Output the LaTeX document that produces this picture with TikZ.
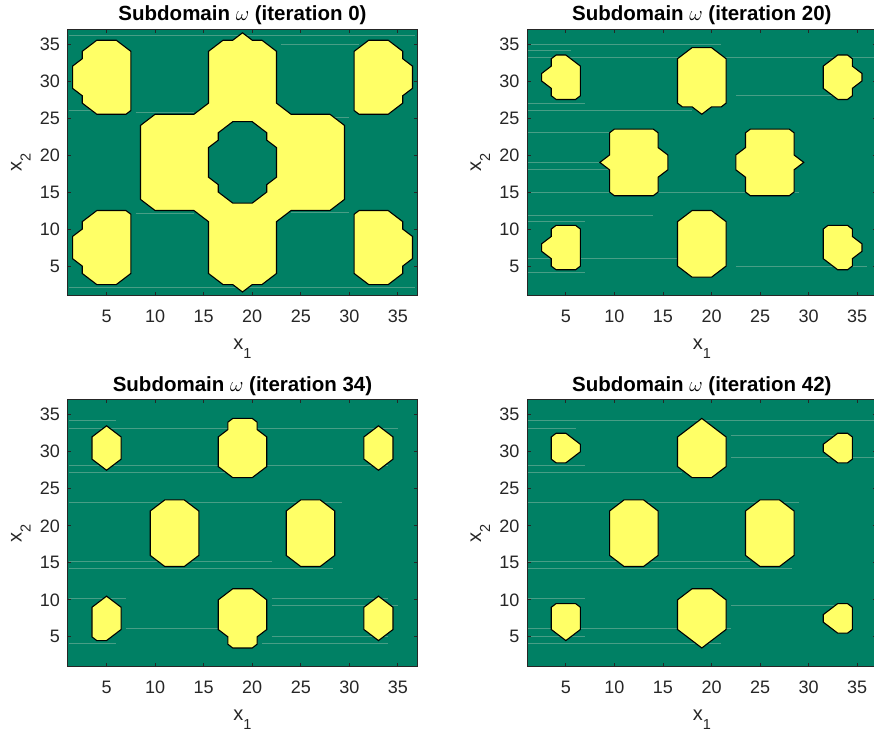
\documentclass[tikz,border=0pt]{standalone}
\usepackage{fontspec}
\setmainfont{Liberation Sans}
\definecolor{bgc}{RGB}{0,128,100}
\definecolor{blobc}{RGB}{255,255,102}
\definecolor{axc}{RGB}{38,38,38}
\definecolor{faint}{RGB}{72,158,134}
\tikzset{
 blob/.style={fill=blobc, draw=black, line width=1.1pt, line join=miter},
 axbox/.style={draw=axc, line width=0.9pt},
 tickl/.style={draw=axc, line width=0.8pt},
 faintln/.style={draw=faint, line width=0.6pt},
 ticklab/.style={font=\fontsize{18}{18}\selectfont, text=axc, inner sep=0pt},
 axlab/.style={font=\fontsize{20}{20}\selectfont, text=axc, inner sep=0pt, anchor=base},
 titlelab/.style={font=\bfseries\fontsize{20.5}{20.5}\selectfont, text=black, inner sep=0pt, anchor=base},
}
\newcommand\axdeco[2]{%
  \draw[axbox] (1,1) rectangle (37,37);
  \foreach \t in {5,10,...,35} {
    \draw[tickl] (\t,1) -- ++(0,0.47);
    \draw[tickl] (\t,37) -- ++(0,-0.47);
    \draw[tickl] (1,\t) -- ++(0.36,0);
    \draw[tickl] (37,\t) -- ++(-0.36,0);
    \node[ticklab, anchor=base, yshift=-27pt] (#1xt\t) at (\t,1) {\t};
    \node[ticklab, anchor=east, xshift=-7.5pt] (#1yt\t) at (1,\t) {\t};
  }
  \node[axlab, yshift=-54pt] (#1xl) at (19,1) {x\raisebox{-9pt}{\fontsize{14.5}{14.5}\selectfont 1}};
  \node[axlab, xshift=-46pt, rotate=90] (#1yl) at (1,19) {x\raisebox{-9pt}{\fontsize{14.5}{14.5}\selectfont 2}};
  \node[titlelab, yshift=8.3pt] (#1title) at (19,37) {Subdomain {\mdseries$\omega$} (iteration #2)};
}
\newcommand\faintlines[1]{%
  \foreach \yy/\xa/\xb in {#1} { \draw[faintln] (\xa,\yy) -- (\xb,\yy); }
}
\begin{document}
\begin{tikzpicture}[x=1pt,y=-1pt]
\useasboundingbox (0,0) rectangle (874,736);
\fill[white] (0,0) rectangle (874,736);

% ---------- iteration 0 ----------
\begin{scope}[shift={(57.989,303.106)}, x=9.7111pt, y=7.4056pt]
  \fill[bgc] (1,1) rectangle (37,37);
  \faintlines{36.1/1.1/36.8, 35/23/31, 26/1.1/7.5, 25.7/8/14, 25.1/24/30, 12.1/8/14, 12.2/24/30, 2.1/1.1/36.8}
  \filldraw[blob] (4,35.5) -- (6,35.5) -- (7.5,34) -- (7.5,26) -- (7,25.5) -- (4,25.5) -- (2.5,27) -- (2.5,28) -- (1.5,29) -- (1.5,32) -- (2.5,33) -- (2.5,34) -- cycle;
  \filldraw[blob] (34,35.5) -- (32,35.5) -- (30.5,34) -- (30.5,26) -- (31,25.5) -- (34,25.5) -- (35.5,27) -- (35.5,28) -- (36.5,29) -- (36.5,32) -- (35.5,33) -- (35.5,34) -- cycle;
  \filldraw[blob] (4,2.5) -- (6,2.5) -- (7.5,4) -- (7.5,12) -- (7,12.5) -- (4,12.5) -- (2.5,11) -- (2.5,10) -- (1.5,9) -- (1.5,6) -- (2.5,5) -- (2.5,4) -- cycle;
  \filldraw[blob] (34,2.5) -- (32,2.5) -- (30.5,4) -- (30.5,12) -- (31,12.5) -- (34,12.5) -- (35.5,11) -- (35.5,10) -- (36.5,9) -- (36.5,6) -- (35.5,5) -- (35.5,4) -- cycle;
  \filldraw[blob, even odd rule]
    (19,36.5) -- (20,35.5) -- (21,35.5) -- (22.5,34) -- (22.5,27) -- (24,25.5) -- (28,25.5) -- (29.5,24) -- (29.5,14) -- (28,12.5) -- (24,12.5) -- (22.5,11) -- (22.5,4) -- (21,2.5) -- (20,2.5) -- (19,1.5) -- (18,2.5) -- (17,2.5) -- (15.5,4) -- (15.5,11) -- (14,12.5) -- (10,12.5) -- (8.5,14) -- (8.5,24) -- (10,25.5) -- (14,25.5) -- (15.5,27) -- (15.5,34) -- (17,35.5) -- (18,35.5) -- cycle
    (18,24.5) -- (20,24.5) -- (21.5,23) -- (21.5,22) -- (22.5,21) -- (22.5,17) -- (21.5,16) -- (21.5,15) -- (20,13.5) -- (18,13.5) -- (16.5,15) -- (16.5,16) -- (15.5,17) -- (15.5,21) -- (16.5,22) -- (16.5,23) -- cycle;
  \axdeco{a}{0}
\end{scope}

% ---------- iteration 20 ----------
\begin{scope}[shift={(517.289,303.106)}, x=9.7111pt, y=7.4056pt]
  \fill[bgc] (1,1) rectangle (37,37);
  \faintlines{35/1.1/21, 34.1/1.1/5.5, 33.2/1.1/37, 28.1/22.5/33, 27/1.1/7, 26.1/1.1/18, 23.1/1.1/9.5, 19/1.1/9, 18.1/1.1/10, 15/1.1/29, 11.9/1.1/14, 11.1/1.1/7, 6.1/1.1/16.5, 5/22.5/36, 4.1/1.1/7}
  \filldraw[blob] (4,33.5) -- (5,33.5) -- (6.5,32) -- (6.5,28) -- (6,27.5) -- (4,27.5) -- (3.5,28) -- (3.5,29) -- (2.5,30) -- (2.5,31) -- (3.5,32) -- (3.5,33) -- cycle;
  \filldraw[blob] (4,10.5) -- (6,10.5) -- (6.5,10) -- (6.5,5) -- (6,4.5) -- (4,4.5) -- (3.5,5) -- (3.5,6) -- (2.5,7) -- (2.5,8) -- (3.5,9) -- (3.5,10) -- cycle;
  \filldraw[blob] (10,23.5) -- (14,23.5) -- (14.5,23) -- (14.5,21) -- (15.5,20) -- (15.5,18) -- (14.5,17) -- (14.5,15) -- (14,14.5) -- (10,14.5) -- (9.5,15) -- (9.5,18) -- (8.5,19) -- (9.5,20) -- (9.5,23) -- cycle;
  \filldraw[blob] (28,23.5) -- (24,23.5) -- (23.5,23) -- (23.5,21) -- (22.5,20) -- (22.5,18) -- (23.5,17) -- (23.5,15) -- (24,14.5) -- (28,14.5) -- (28.5,15) -- (28.5,18) -- (29.5,19) -- (28.5,20) -- (28.5,23) -- cycle;
  \filldraw[blob] (18,34.5) -- (20,34.5) -- (21.5,33) -- (21.5,27) -- (21,26.5) -- (20,26.5) -- (19,25.5) -- (18,26.5) -- (17,26.5) -- (16.5,27) -- (16.5,33) -- cycle;
  \filldraw[blob] (18,12.5) -- (20,12.5) -- (21.5,11) -- (21.5,5) -- (20,3.5) -- (18,3.5) -- (16.5,5) -- (16.5,11) -- cycle;
  \filldraw[blob] (33,33.5) -- (34,33.5) -- (34.5,33) -- (34.5,32) -- (35.5,31) -- (35.5,30) -- (34.5,29) -- (34.5,28) -- (34,27.5) -- (33,27.5) -- (31.5,29) -- (31.5,32) -- cycle;
  \filldraw[blob] (32,10.5) -- (34,10.5) -- (34.5,10) -- (34.5,9) -- (35.5,8) -- (35.5,7) -- (34.5,6) -- (34.5,5) -- (34,4.5) -- (33,4.5) -- (31.5,6) -- (31.5,10) -- cycle;
  \axdeco{b}{20}
\end{scope}

% ---------- iteration 34 ----------
\begin{scope}[shift={(57.989,673.906)}, x=9.7111pt, y=7.4056pt]
  \fill[bgc] (1,1) rectangle (37,37);
  \faintlines{34.3/1.1/6, 33.2/1.1/35, 28.2/1.1/34, 27.2/1.1/17.5, 23.2/1.1/29.2, 15.2/1.1/22, 14.3/1.1/28.3, 10.2/1.1/7, 10.2/22/34, 9.2/22/35, 6.1/7/17, 5.1/22/34, 4.2/1.1/6, 4.2/21/34}
  \filldraw[blob] (5,33.5) -- (6.5,32) -- (6.5,29) -- (5,27.5) -- (3.5,29) -- (3.5,32) -- cycle;
  \filldraw[blob] (5,10.5) -- (6.5,9) -- (6.5,6) -- (5,4.5) -- (4,4.5) -- (3.5,5) -- (3.5,9) -- cycle;
  \filldraw[blob] (18,34.5) -- (20,34.5) -- (20.5,34) -- (20.5,33) -- (21.5,32) -- (21.5,28) -- (20,26.5) -- (18,26.5) -- (16.5,28) -- (16.5,32) -- (17.5,33) -- (17.5,34) -- cycle;
  \filldraw[blob] (18,11.5) -- (20,11.5) -- (21.5,10) -- (21.5,6) -- (20.5,5) -- (20.5,4) -- (20,3.5) -- (18,3.5) -- (17.5,4) -- (17.5,5) -- (16.5,6) -- (16.5,10) -- cycle;
  \filldraw[blob] (11,23.5) -- (13,23.5) -- (14.5,22) -- (14.5,16) -- (13,14.5) -- (11,14.5) -- (9.5,16) -- (9.5,22) -- cycle;
  \filldraw[blob] (25,23.5) -- (27,23.5) -- (28.5,22) -- (28.5,16) -- (27,14.5) -- (25,14.5) -- (23.5,16) -- (23.5,22) -- cycle;
  \filldraw[blob] (33,33.5) -- (34.5,32) -- (34.5,29) -- (33,27.5) -- (31.5,29) -- (31.5,32) -- cycle;
  \filldraw[blob] (33,10.5) -- (34.5,9) -- (34.5,6) -- (33,4.5) -- (31.5,6) -- (31.5,9) -- cycle;
  \axdeco{c}{34}
\end{scope}

% ---------- iteration 42 ----------
\begin{scope}[shift={(517.289,673.906)}, x=9.7111pt, y=7.4056pt]
  \fill[bgc] (1,1) rectangle (37,37);
  \faintlines{34.3/1.1/37, 33.2/1.1/6, 32.2/22/33, 29.3/22/37, 28.2/1.1/7, 27.2/1.1/17, 23.2/1.1/29, 15.2/1.1/24, 14.3/1.1/28.3, 10.2/1.1/7, 9.2/22/33, 6.1/1.1/22, 5.1/1.1/7, 4.2/1.1/21}
  \filldraw[blob] (4,32.5) -- (5,32.5) -- (6.5,31) -- (6.5,30) -- (5,28.5) -- (4,28.5) -- (3.5,29) -- (3.5,32) -- cycle;
  \filldraw[blob] (4,9.5) -- (6,9.5) -- (6.5,9) -- (6.5,6) -- (5,4.5) -- (3.5,6) -- (3.5,9) -- cycle;
  \filldraw[blob] (11,23.5) -- (13,23.5) -- (14.5,22) -- (14.5,16) -- (13,14.5) -- (11,14.5) -- (9.5,16) -- (9.5,22) -- cycle;
  \filldraw[blob] (25,23.5) -- (27,23.5) -- (28.5,22) -- (28.5,16) -- (27,14.5) -- (25,14.5) -- (23.5,16) -- (23.5,22) -- cycle;
  \filldraw[blob] (19,34.5) -- (21.5,32) -- (21.5,28) -- (20,26.5) -- (18,26.5) -- (16.5,28) -- (16.5,32) -- cycle;
  \filldraw[blob] (18,11.5) -- (20,11.5) -- (21.5,10) -- (21.5,6) -- (19,3.5) -- (16.5,6) -- (16.5,10) -- cycle;
  \filldraw[blob] (33,32.5) -- (34,32.5) -- (34.5,32) -- (34.5,29) -- (34,28.5) -- (33,28.5) -- (31.5,30) -- (31.5,31) -- cycle;
  \filldraw[blob] (33,9.5) -- (34,9.5) -- (34.5,9) -- (34.5,6) -- (34,5.5) -- (33,5.5) -- (31.5,7) -- (31.5,8) -- cycle;
  \axdeco{d}{42}
\end{scope}
\end{tikzpicture}
\end{document}
